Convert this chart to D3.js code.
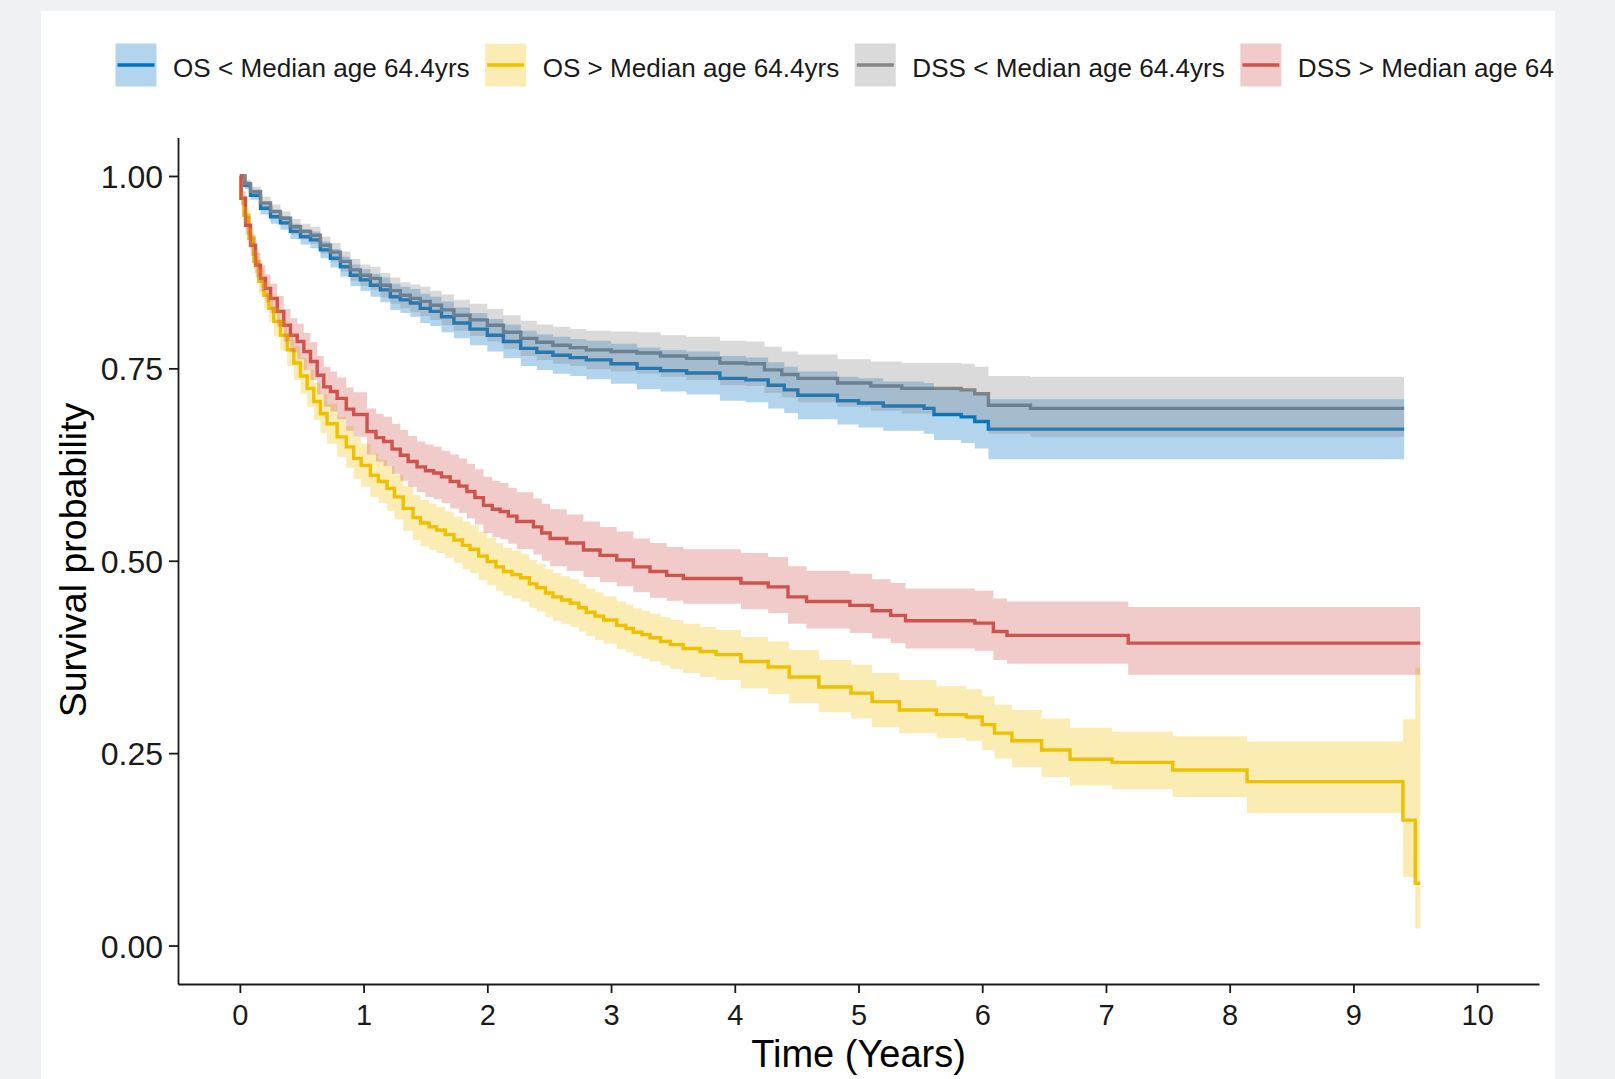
<!DOCTYPE html>
<html><head><meta charset="utf-8">
<script src="https://cdn.jsdelivr.net/npm/d3@7"></script>
<style>
body{margin:0;background:#f0f1f3;}
svg{display:block;}
text{font-family:"Liberation Sans",Arial,Helvetica,sans-serif;}
</style>
</head><body>
<svg id="chart" width="1615" height="1079"></svg>
<script>
// ---------- labels / ticks ----------
const legendLabels = ["OS < Median age 64.4yrs","OS > Median age 64.4yrs","DSS < Median age 64.4yrs","DSS > Median age 64.4yrs"];
const seriesColors = ["#0073C2","#EFC000","#868686","#CD534C"];
const xTicks = [0,1,2,3,4,5,6,7,8,9,10];
const yTicks = [0,0.25,0.5,0.75,1];
const yTickLabels = ["0.00","0.25","0.50","0.75","1.00"];
const xTitle = "Time (Years)";
const yTitle = "Survival probability";

// ---------- OS < median age ----------
const osLowTime  = [0,0.04,0.086,0.167,0.248,0.328,0.409,0.49,0.571,0.651,0.732,0.813,0.893,0.974,1.055,1.136,1.216,1.297,1.378,1.458,1.539,1.63,1.73,1.86,2.0,2.13,2.27,2.4,2.53,2.67,2.80,3.0,3.21,3.4,3.61,3.88,4.09,4.27,4.4,4.51,4.83,5.0,5.20,5.53,5.61,5.83,5.94,6.05,9.41];
const osLowSurv  = [1,0.988,0.975,0.958,0.947,0.939,0.928,0.921,0.917,0.904,0.893,0.882,0.871,0.865,0.858,0.852,0.843,0.839,0.835,0.828,0.824,0.817,0.809,0.801,0.793,0.785,0.776,0.771,0.767,0.764,0.761,0.756,0.750,0.747,0.744,0.737,0.735,0.728,0.722,0.715,0.708,0.705,0.701,0.698,0.690,0.687,0.681,0.671,0.671];
const osLowLower = [1,0.983,0.969,0.950,0.938,0.930,0.918,0.911,0.906,0.893,0.881,0.869,0.857,0.851,0.843,0.836,0.826,0.822,0.817,0.809,0.805,0.797,0.789,0.780,0.772,0.763,0.753,0.748,0.743,0.740,0.736,0.730,0.723,0.720,0.716,0.708,0.706,0.698,0.692,0.684,0.677,0.673,0.669,0.665,0.657,0.653,0.646,0.632,0.632];
const osLowUpper = [1,0.993,0.981,0.966,0.956,0.948,0.938,0.931,0.928,0.915,0.905,0.895,0.885,0.879,0.873,0.868,0.860,0.856,0.853,0.847,0.843,0.837,0.829,0.822,0.814,0.807,0.799,0.794,0.791,0.788,0.786,0.782,0.777,0.774,0.772,0.766,0.764,0.758,0.752,0.746,0.739,0.737,0.733,0.731,0.723,0.721,0.716,0.710,0.710];

// ---------- OS > median age ----------
const osHighTime  = [0,0.008,0.032,0.073,0.113,0.153,0.194,0.234,0.274,0.328,0.383,0.436,0.49,0.544,0.597,0.651,0.705,0.786,0.86,0.92,0.98,1.055,1.12,1.19,1.25,1.32,1.40,1.46,1.53,1.59,1.66,1.73,1.80,1.86,1.93,2.0,2.07,2.13,2.2,2.27,2.34,2.40,2.47,2.53,2.60,2.67,2.74,2.80,2.87,2.94,3.046,3.12,3.18,3.25,3.315,3.40,3.48,3.584,3.72,3.85,4.05,4.27,4.44,4.68,4.94,5.11,5.33,5.63,5.87,6.0,6.10,6.24,6.48,6.71,7.05,7.54,8.14,9.40,9.50,9.54];
const osHighSurv  = [1,0.971,0.949,0.919,0.889,0.863,0.845,0.828,0.811,0.793,0.774,0.757,0.740,0.724,0.707,0.691,0.678,0.661,0.648,0.633,0.624,0.611,0.603,0.594,0.583,0.568,0.556,0.549,0.544,0.540,0.534,0.527,0.520,0.515,0.506,0.499,0.492,0.486,0.482,0.478,0.470,0.465,0.458,0.453,0.449,0.445,0.439,0.433,0.428,0.423,0.416,0.412,0.407,0.404,0.400,0.395,0.391,0.386,0.382,0.378,0.369,0.362,0.349,0.336,0.328,0.317,0.306,0.300,0.297,0.287,0.276,0.266,0.254,0.242,0.238,0.228,0.213,0.163,0.081,0.081];
const osHighLower = [1,0.963,0.938,0.906,0.874,0.847,0.828,0.810,0.792,0.773,0.753,0.735,0.717,0.700,0.683,0.666,0.652,0.635,0.621,0.606,0.596,0.583,0.575,0.565,0.554,0.539,0.527,0.519,0.514,0.510,0.504,0.497,0.489,0.484,0.475,0.468,0.461,0.455,0.451,0.447,0.439,0.434,0.427,0.422,0.418,0.414,0.408,0.402,0.397,0.392,0.385,0.381,0.376,0.373,0.369,0.364,0.359,0.354,0.349,0.345,0.334,0.327,0.315,0.303,0.295,0.284,0.276,0.270,0.266,0.254,0.243,0.232,0.219,0.208,0.203,0.193,0.172,0.089,0.022,0.022];
const osHighUpper = [1,0.979,0.960,0.932,0.904,0.879,0.862,0.846,0.830,0.813,0.795,0.779,0.763,0.748,0.731,0.716,0.704,0.687,0.675,0.660,0.652,0.639,0.631,0.623,0.612,0.597,0.585,0.579,0.574,0.570,0.564,0.557,0.551,0.546,0.537,0.530,0.523,0.517,0.513,0.509,0.501,0.496,0.489,0.484,0.480,0.476,0.470,0.464,0.459,0.454,0.447,0.443,0.438,0.435,0.431,0.427,0.423,0.418,0.414,0.410,0.401,0.395,0.384,0.371,0.365,0.354,0.345,0.337,0.333,0.324,0.313,0.306,0.295,0.283,0.278,0.272,0.265,0.294,0.361,0.361];

// ---------- DSS < median age ----------
const dssLowTime  = [0,0.04,0.086,0.167,0.248,0.328,0.409,0.49,0.571,0.651,0.732,0.813,0.893,0.974,1.055,1.136,1.216,1.297,1.378,1.458,1.539,1.63,1.73,1.86,2.0,2.13,2.27,2.4,2.53,2.67,2.80,3.0,3.21,3.4,3.61,3.88,4.09,4.24,4.38,4.51,4.83,5.1,5.35,5.83,5.94,6.05,6.39,9.41];
const dssLowSurv  = [1,0.990,0.980,0.965,0.954,0.945,0.934,0.928,0.923,0.910,0.901,0.889,0.878,0.871,0.867,0.858,0.851,0.845,0.841,0.837,0.832,0.826,0.819,0.813,0.806,0.797,0.789,0.784,0.780,0.777,0.774,0.772,0.770,0.766,0.763,0.757,0.756,0.748,0.742,0.737,0.731,0.727,0.724,0.722,0.717,0.702,0.698,0.698];
const dssLowLower = [1,0.985,0.974,0.957,0.945,0.936,0.924,0.918,0.912,0.899,0.889,0.876,0.864,0.857,0.852,0.842,0.834,0.828,0.823,0.818,0.813,0.806,0.799,0.792,0.785,0.775,0.766,0.761,0.756,0.753,0.749,0.746,0.743,0.739,0.735,0.728,0.727,0.718,0.712,0.706,0.700,0.695,0.691,0.688,0.682,0.665,0.661,0.661];
const dssLowUpper = [1,0.995,0.986,0.973,0.963,0.954,0.944,0.938,0.934,0.921,0.913,0.902,0.892,0.885,0.882,0.874,0.868,0.862,0.859,0.856,0.851,0.846,0.839,0.834,0.827,0.819,0.812,0.807,0.804,0.801,0.799,0.798,0.797,0.793,0.791,0.786,0.785,0.778,0.772,0.768,0.762,0.759,0.757,0.756,0.752,0.740,0.739,0.739];

// ---------- DSS > median age ----------
const dssHighTime  = [0,0.01,0.046,0.086,0.127,0.167,0.207,0.248,0.302,0.355,0.409,0.463,0.517,0.571,0.625,0.678,0.732,0.786,0.86,0.92,1.028,1.10,1.162,1.23,1.297,1.36,1.432,1.50,1.566,1.63,1.70,1.77,1.835,1.90,1.969,2.04,2.104,2.17,2.239,2.373,2.44,2.508,2.642,2.777,2.911,3.046,3.18,3.315,3.45,3.584,4.05,4.27,4.43,4.58,4.93,5.11,5.26,5.38,5.94,6.09,6.20,7.18,9.54];
const dssHighSurv  = [1,0.971,0.936,0.910,0.884,0.867,0.854,0.841,0.824,0.806,0.793,0.785,0.772,0.759,0.741,0.726,0.720,0.711,0.697,0.690,0.668,0.660,0.655,0.645,0.637,0.629,0.622,0.617,0.614,0.609,0.603,0.597,0.590,0.582,0.572,0.567,0.564,0.558,0.551,0.544,0.536,0.529,0.523,0.514,0.507,0.501,0.492,0.486,0.481,0.477,0.471,0.466,0.453,0.447,0.442,0.435,0.429,0.422,0.419,0.408,0.403,0.393,0.393];
const dssHighLower = [1,0.962,0.924,0.896,0.868,0.850,0.836,0.822,0.804,0.785,0.771,0.762,0.748,0.735,0.716,0.700,0.694,0.684,0.669,0.661,0.638,0.629,0.623,0.613,0.604,0.596,0.589,0.583,0.580,0.575,0.568,0.562,0.555,0.547,0.536,0.531,0.528,0.522,0.515,0.508,0.500,0.493,0.487,0.479,0.472,0.467,0.459,0.452,0.448,0.444,0.437,0.432,0.418,0.412,0.406,0.399,0.393,0.386,0.383,0.371,0.366,0.352,0.352];
const dssHighUpper = [1,0.980,0.948,0.924,0.900,0.884,0.872,0.860,0.844,0.827,0.815,0.808,0.796,0.784,0.766,0.752,0.746,0.738,0.725,0.719,0.698,0.691,0.687,0.678,0.670,0.662,0.655,0.651,0.648,0.643,0.638,0.633,0.626,0.619,0.609,0.604,0.601,0.595,0.589,0.581,0.574,0.567,0.560,0.551,0.544,0.538,0.529,0.523,0.518,0.515,0.510,0.505,0.493,0.487,0.483,0.476,0.471,0.464,0.461,0.451,0.447,0.440,0.440];

// ---------- assemble ----------
function toPoints(t, s, lo, hi){ return t.map((v,i)=>({t:v, s:s[i], lo:lo[i], hi:hi[i]})); }
const series = [
  {label: legendLabels[0], color: seriesColors[0], pts: toPoints(osLowTime, osLowSurv, osLowLower, osLowUpper)},
  {label: legendLabels[1], color: seriesColors[1], pts: toPoints(osHighTime, osHighSurv, osHighLower, osHighUpper)},
  {label: legendLabels[2], color: seriesColors[2], pts: toPoints(dssLowTime, dssLowSurv, dssLowLower, dssLowUpper)},
  {label: legendLabels[3], color: seriesColors[3], pts: toPoints(dssHighTime, dssHighSurv, dssHighLower, dssHighUpper)}
];

const svg = d3.select("#chart");
svg.append("rect").attr("width",1615).attr("height",1079).attr("fill","#f0f1f3");
svg.append("rect").attr("x",41).attr("y",11).attr("width",1514).attr("height",1068).attr("fill","#ffffff");

const x = d3.scaleLinear().domain([-0.5,10.5]).range([178,1539]);
const y = d3.scaleLinear().domain([-0.05,1.05]).range([984,137.5]);

const line = d3.line().x(d=>x(d.t)).y(d=>y(d.s)).curve(d3.curveStepAfter);
const area = d3.area().x(d=>x(d.t)).y0(d=>y(d.lo)).y1(d=>y(d.hi)).curve(d3.curveStepAfter);

const plot = svg.append("g");
// lines first, ribbons on top (as in survminer)
plot.selectAll("path.km").data(series).join("path")
  .attr("class","km").attr("d", d=>line(d.pts))
  .attr("fill","none").attr("stroke", d=>d.color).attr("stroke-width",3.4);
plot.selectAll("path.ci").data(series).join("path")
  .attr("class","ci").attr("d", d=>area(d.pts))
  .attr("fill", d=>d.color).attr("fill-opacity",0.3).attr("stroke","none");

// axes
const axisColor = "#1a1a1a";
const gx = svg.append("g").attr("transform","translate(0,984)")
  .call(d3.axisBottom(x).tickValues(xTicks).tickFormat(d3.format("d")).tickSize(9).tickSizeOuter(0).tickPadding(11));
const gy = svg.append("g").attr("transform","translate(178,0)")
  .call(d3.axisLeft(y).tickValues(yTicks).tickFormat((d,i)=>yTickLabels[i]).tickSize(9).tickSizeOuter(0).tickPadding(6));
[gx,gy].forEach(g=>{
  g.select(".domain").attr("stroke",axisColor).attr("stroke-width",1.8);
  g.selectAll(".tick line").attr("stroke",axisColor).attr("stroke-width",1.8);
  g.selectAll(".tick text").attr("fill",axisColor).attr("font-family",'"Liberation Sans",Arial,sans-serif');
});
gx.selectAll(".tick text").attr("font-size",29);
gy.selectAll(".tick text").attr("font-size",32).attr("dy","0.36em");

// axis titles
svg.append("text").attr("x",858.5).attr("y",1067).attr("text-anchor","middle")
  .attr("font-size",38).attr("fill","#000").text(xTitle);
svg.append("text").attr("transform","translate(86,560) rotate(-90)").attr("text-anchor","middle")
  .attr("font-size",37.5).attr("fill","#000").text(yTitle);

// legend (clipped at the white panel edge, as in the reference)
svg.append("clipPath").attr("id","legclip").append("rect")
  .attr("x",41).attr("y",11).attr("width",1514).attr("height",120);
const leg = svg.append("g").attr("clip-path","url(#legclip)");
let lx = 115.5;
const keyW = 41, keyH = 43, keyY = 43.5;
series.forEach(s=>{
  const g = leg.append("g");
  g.append("rect").attr("x",lx).attr("y",keyY).attr("width",keyW).attr("height",keyH)
    .attr("fill",s.color).attr("fill-opacity",0.3);
  g.append("line").attr("x1",lx+2).attr("x2",lx+keyW-2).attr("y1",keyY+keyH/2).attr("y2",keyY+keyH/2)
    .attr("stroke",s.color).attr("stroke-width",3.4);
  const t = g.append("text").attr("x",lx+keyW+16.5).attr("y",77)
    .attr("font-size",26.1).attr("fill","#1a1a1a").text(s.label);
  const w = t.node().getComputedTextLength();
  lx = lx + keyW + 16 + w + 16;
});
</script>
</body></html>
